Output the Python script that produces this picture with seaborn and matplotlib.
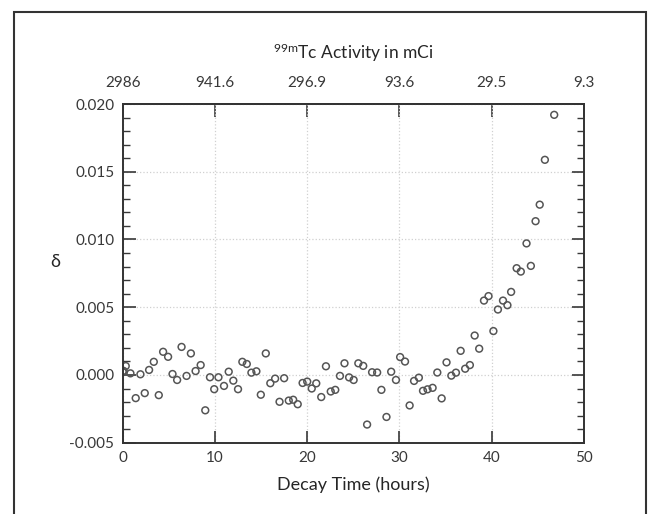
import matplotlib
matplotlib.use("Agg")
import matplotlib.pyplot as plt
import seaborn as sns
import pandas as pd
from matplotlib.patches import Rectangle
from matplotlib.ticker import MultipleLocator

# ----------- DATA ------------

# decay time (hours) and delta values
hours = [0.0, 0.1, 0.33, 0.84, 1.41, 1.92, 2.39, 2.86, 3.37, 3.91, 4.38,
         4.92, 5.40, 5.90, 6.38, 6.92, 7.39, 7.90, 8.45, 8.95, 9.46,
         9.92, 10.38, 10.98, 11.49, 11.99, 12.50, 12.97, 13.45, 13.95, 14.49,
         14.97, 15.51, 16.00, 16.52, 17.00, 17.50, 18.00, 18.48, 18.97, 19.50,
         20.00, 20.49, 20.98, 21.52, 22.03, 22.55, 23.04, 23.55, 24.04, 24.54,
         25.03, 25.54, 26.07, 26.49, 27.03, 27.58, 28.04, 28.59, 29.10, 29.62,
         30.07, 30.60, 31.10, 31.58, 32.10, 32.55, 33.04, 33.59, 34.10, 34.57,
         35.10, 35.62, 36.12, 36.63, 37.12, 37.63, 38.15, 38.64, 39.16, 39.65,
         40.18, 40.67, 41.22, 41.70, 42.10, 42.70, 43.15, 43.77, 44.24, 44.75,
         45.20, 45.76, 46.77]
delta = [0.00024, 0.00030, 0.00066, 0.00012, -0.00171, 0.00005, -0.00134, 0.00037, 0.00097, -0.00149, 0.00171,
         0.00134, 0.00007, -0.00037, 0.00207, -0.00007, 0.00159, 0.00029, 0.00073, -0.00261, -0.00017,
         -0.00105, -0.00017, -0.00081, 0.00024, -0.00042, -0.00105, 0.00097, 0.00081, 0.00017, 0.00027,
         -0.00146, 0.00159, -0.00061, -0.00027, -0.00198, -0.00024, -0.00189, -0.00183, -0.00216, -0.00059,
         -0.00049, -0.00100, -0.00062, -0.00163, 0.00064, -0.00122, -0.00110, -0.00007, 0.00086, -0.00018,
         -0.00037, 0.00086, 0.00067, -0.00366, 0.00020, 0.00018, -0.00110, -0.00310, 0.00024, -0.00037,
         0.00132, 0.00099, -0.00225, -0.00044, -0.00020, -0.00117, -0.00106, -0.00095, 0.00018, -0.00173,
         0.00093, -0.00005, 0.00017, 0.00178, 0.00046, 0.00073, 0.00291, 0.00194, 0.00549, 0.00582,
         0.00324, 0.00483, 0.00549, 0.00515, 0.00613, 0.00788, 0.00763, 0.00971, 0.00805, 0.01135,
         0.01257, 0.01588, 0.01920]

# top axis: 99mTc activity (mCi) at each bottom tick
time_ticks = [0, 10, 20, 30, 40, 50]
activity_labels = ["2986", "941.6", "296.9", "93.6", "29.5", "9.3"]
delta_ticks = [-0.005, 0.000, 0.005, 0.010, 0.015, 0.020]

df = pd.DataFrame({"hours": hours, "delta": delta})

# ----------- FIGURE ------------

sns.set_style("ticks")
plt.rcParams["font.family"] = ["Lato", "DejaVu Sans"]
plt.rcParams["text.color"] = "#383838"
plt.rcParams["xtick.color"] = "#383838"
plt.rcParams["ytick.color"] = "#383838"

fig = plt.figure(figsize=(6.56, 5.14), dpi=100)
ax = fig.add_axes([122.7 / 656, 1 - 442.7 / 514, (584 - 122.7) / 656, (442.7 - 104) / 514])

sns.scatterplot(data=df, x="hours", y="delta", ax=ax, marker="o", s=24,
                facecolor="none", edgecolor="#555555", linewidth=1.1, legend=False)

ax.set_xlim(0, 50)
ax.set_ylim(-0.005, 0.020)
ax.set_xticks(time_ticks)
ax.set_yticks(delta_ticks)
ax.set_yticklabels([f"{v:.3f}" for v in delta_ticks])
ax.yaxis.set_minor_locator(MultipleLocator(0.001))

for side in ["left", "right", "top", "bottom"]:
    ax.spines[side].set_visible(True)
    ax.spines[side].set_color("#333333")
    ax.spines[side].set_linewidth(1.4)

ax.grid(True, which="major", color="#d0d0d0", linestyle=":", linewidth=0.9)
ax.tick_params(axis="both", which="major", direction="in", length=9, width=1.2,
               labelsize=11, right=True, top=False)
ax.tick_params(axis="y", which="minor", direction="in", length=5, width=1.0,
               left=True, right=True)
ax.tick_params(axis="x", which="major", pad=6)
ax.tick_params(axis="y", which="major", pad=6)

ax.set_xlabel("Decay Time (hours)", fontsize=13, labelpad=8)
ax.set_ylabel("δ", fontsize=13, rotation=0)
ax.yaxis.set_label_coords(-0.147, 0.51)

top = ax.secondary_xaxis("top")
top.set_xticks(time_ticks)
top.set_xticklabels(activity_labels)
top.tick_params(direction="in", length=9, width=1.2, labelsize=11, pad=10)
top.spines["top"].set_color("#333333")
top.spines["top"].set_linewidth(1.4)
top.set_xlabel(r"$\mathregular{^{99m}}$Tc Activity in mCi", fontsize=12.5, labelpad=12)

# outer frame around the figure
fig.add_artist(Rectangle((14 / 656, -0.05), (646 - 14) / 656, 1.05 - 11.7 / 514,
                         transform=fig.transFigure, fill=False,
                         edgecolor="#333333", linewidth=1.5))

fig.savefig("out.png", dpi=100)
